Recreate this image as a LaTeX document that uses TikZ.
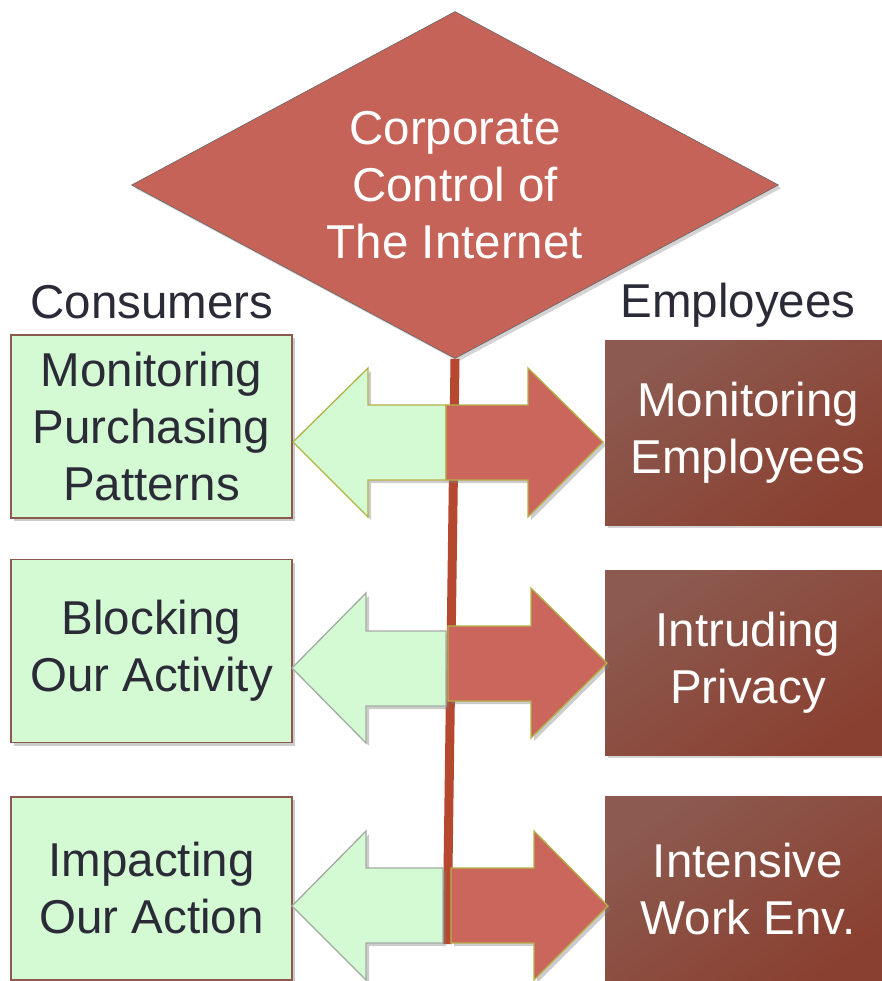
\documentclass[tikz,border=0pt]{standalone}
\usepackage{fontspec}
\setmainfont{Liberation Sans}
\usetikzlibrary{shapes.geometric, shadows}

\definecolor{mint}{HTML}{D4FAD4}
\definecolor{mintline}{HTML}{8C5A4C}
\definecolor{olive}{HTML}{B5B048}
\definecolor{greyline}{HTML}{A3ABA3}
\definecolor{salmon}{HTML}{CB665C}
\definecolor{rust}{HTML}{B5482E}
\definecolor{brownA}{HTML}{8C5A50}
\definecolor{brownB}{HTML}{8A4030}
\definecolor{ink}{HTML}{2B2B38}

\begin{document}
\begin{tikzpicture}[x=1pt, y=-1pt,
    big/.style={font=\fontsize{47.5}{57}\selectfont, align=center},
    core/.style={big, draw=gray!80!black, line width=0.6pt, fill=salmon!97!black, text=white, diamond, aspect=1.86, minimum width=647pt, minimum height=347pt, inner sep=0pt, drop shadow={shadow xshift=3pt, shadow yshift=-3pt, opacity=0.35}},
    consumer/.style={big, text=ink, rectangle, draw=mintline, line width=1.2pt, fill=mint, minimum width=281pt, minimum height=183pt, inner sep=0pt, drop shadow={shadow xshift=3pt, shadow yshift=-3pt, opacity=0.4}},
    employee/.style={big, text=white, rectangle, top color=brownA, bottom color=brownB, shading angle=35, minimum width=286pt, minimum height=185pt, inner sep=0pt, drop shadow={shadow xshift=3pt, shadow yshift=-3pt, opacity=0.35}},
    head/.style={big, text=ink},
    stem/.style={draw=rust, line width=9pt},
    garrow/.style={fill=mint, draw=olive, line width=1.3pt, line join=miter, drop shadow={shadow xshift=3pt, shadow yshift=-3pt, opacity=0.4}},
    garrowg/.style={garrow, draw=greyline},
    rarrow/.style={fill=salmon, draw=olive, line width=1.3pt, line join=miter, drop shadow={shadow xshift=3pt, shadow yshift=-3pt, opacity=0.4}}]
    \useasboundingbox (0,0) rectangle (882,981);
    % center
    \node[core] (core) at (455,185) {Corporate\\Control of\\The Internet};
    \coordinate (stemend) at (447,944);
    \draw[stem] (core.south) -- (stemend);
    % headings
    \node[head] (cons) at (152,302) {Consumers};
    \node[head] (empl) at (738,305) {Employees};
    % left column
    \node[consumer] (purch) at (151.5,426.5) {Monitoring\\Purchasing\\Patterns};
    \node[consumer] (block) at (151.5,651) {Blocking\\Our Activity};
    \node[consumer] (impact) at (151.5,888.5) {Impacting\\Our Action};
    % right column
    \node[employee] (moni) at (748,432.5) {Monitoring\\Employees};
    \node[employee] (priv) at (748,662.5) {Intruding\\Privacy};
    \node[employee] (work) at (748,889) {Intensive\\Work Env.};
    % arrows
    \draw[garrow] (446,405) -- (368,405) -- (368,368) -- (293,442) -- (368,517) -- (368,480) -- (446,480) -- cycle;
    \draw[rarrow] (446,405) -- (528,405) -- (528,368) -- (603,442) -- (528,517) -- (528,480) -- (446,480) -- cycle;
    \draw[garrowg] (446,631) -- (366,631) -- (366,593) -- (292,668) -- (366,743) -- (366,706) -- (446,706) -- cycle;
    \draw[rarrow] (448,626) -- (531,626) -- (531,588) -- (607,663) -- (531,738) -- (531,701) -- (448,701) -- cycle;
    \draw[garrowg] (443,868) -- (366,868) -- (366,831) -- (292,906) -- (366,980) -- (366,943) -- (443,943) -- cycle;
    \draw[rarrow] (451,868) -- (534,868) -- (534,831) -- (608,906) -- (534,980) -- (534,943) -- (451,943) -- cycle;
\end{tikzpicture}
\end{document}
